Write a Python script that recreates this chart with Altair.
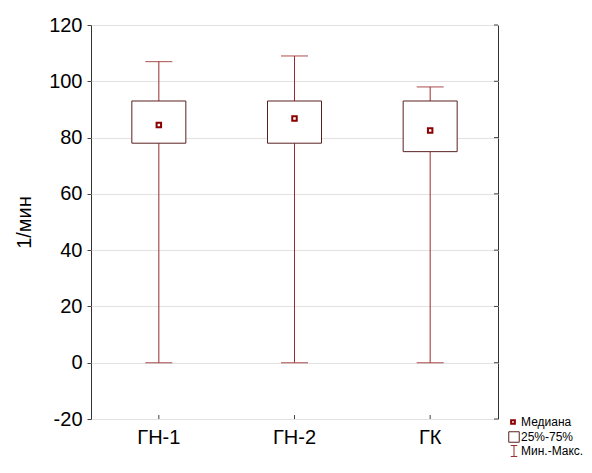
import altair as alt
import pandas as pd

groups = ["ГН-1", "ГН-2", "ГК"]
mins = [0, 0, 0]
q1s = [78, 78, 75]
medians = [84.5, 86.8, 82.5]
q3s = [93, 93, 93]
maxs = [107, 109, 98]

y_ticks = [-20, 0, 20, 40, 60, 80, 100, 120]
legend_labels = ["Медиана", "25%-75%", "Мин.-Макс."]

df = pd.DataFrame({"g": groups, "mn": mins, "q1": q1s, "med": medians, "q3": q3s, "mx": maxs})
ticks_df = pd.DataFrame({"t": y_ticks})

W, H = 407, 394
FONT = "Liberation Sans"
WHISK = "#9b2b2b"
BOXC = "#5a2020"
MEDC = "#8b0000"

x_enc = alt.X("g:N", sort=groups, scale=alt.Scale(domain=groups, paddingInner=0, paddingOuter=0),
              axis=alt.Axis(title=None, labelAngle=0, labelFontSize=20, labelFont=FONT, labelColor="black",
                            labelPadding=8, ticks=False, domain=False, grid=False))
yscale = alt.Scale(domain=[-20, 120], nice=False, zero=False)
y_axis = alt.Axis(title="1/мин", titleFontSize=20, titleFont=FONT, titleFontWeight="normal", titleColor="black",
                  titlePadding=14, labelFontSize=20, labelFont=FONT, labelColor="black", labelPadding=5,
                  values=y_ticks, tickSize=4, tickColor="#444", domain=False,
                  labelExpr="datum.value < 0 ? '-' + abs(datum.value) : '' + datum.value",
                  grid=True, gridColor="#e2e2e2", gridWidth=1)

base = alt.Chart(df)

whisk = base.mark_rule(color=WHISK, strokeWidth=1).encode(
    x=x_enc, y=alt.Y("mn:Q", scale=yscale, axis=y_axis), y2="mx:Q")
caps_top = base.mark_tick(color=WHISK, thickness=1.2, size=27).encode(x=x_enc, y=alt.Y("mx:Q", scale=yscale))
caps_bot = base.mark_tick(color=WHISK, thickness=1.2, size=27).encode(x=x_enc, y=alt.Y("mn:Q", scale=yscale))
box = base.mark_bar(fill="white", stroke=BOXC, strokeWidth=1, size=54).encode(
    x=x_enc, y=alt.Y("q1:Q", scale=yscale), y2="q3:Q")
med = base.mark_point(shape="square", filled=False, stroke=MEDC, strokeWidth=2, size=20, opacity=1).encode(
    x=x_enc, y=alt.Y("med:Q", scale=yscale))

tick_chart = alt.Chart(ticks_df)
right_ticks = tick_chart.mark_rule(color="#444").encode(
    y=alt.Y("t:Q", scale=yscale), x=alt.value(W - 4), x2=alt.value(W))
bottom_ticks = alt.Chart(pd.DataFrame({"g": groups})).mark_rule(color="#444").encode(
    x=x_enc, y=alt.value(H - 4), y2=alt.value(H))

leg_df = pd.DataFrame({"lab": legend_labels})
leg_x = W + 16
leg_y0 = H + 3
leg_med = alt.Chart(leg_df.iloc[[0]]).mark_point(shape="square", filled=False, stroke=MEDC, strokeWidth=2,
                                                 size=14, opacity=1).encode(x=alt.value(leg_x - 1), y=alt.value(leg_y0))
leg_box = alt.Chart(leg_df.iloc[[1]]).mark_point(shape="square", filled=False, stroke=BOXC, strokeWidth=1,
                                                 size=110, opacity=1).encode(x=alt.value(leg_x), y=alt.value(leg_y0 + 15))
leg_wh = alt.Chart(leg_df.iloc[[2]]).mark_point(shape="M-0.6,-1H0.6M0,-1V1M-0.6,1H0.6", filled=False,
                                                stroke=WHISK, strokeWidth=1, size=120, opacity=1).encode(
    x=alt.value(leg_x), y=alt.value(leg_y0 + 29))

leg_texts = []
for i in range(3):
    leg_texts.append(
        alt.Chart(leg_df.iloc[[i]]).mark_text(align="left", baseline="middle", fontSize=12, font=FONT,
                                              color="black").encode(
            x=alt.value(leg_x + 7), y=alt.value(leg_y0 + 14.5 * i), text="lab:N"))

chart = alt.layer(whisk, caps_top, caps_bot, box, med, right_ticks, bottom_ticks,
                  leg_med, leg_box, leg_wh, *leg_texts).properties(
    width=W, height=H,
    autosize=alt.AutoSizeParams(type="none"),
    padding={"left": 83, "top": 17, "right": 86, "bottom": 46},
).configure_view(stroke="#333", strokeWidth=1, clip=False)

chart.save("out.html", embed_options={"renderer": "svg", "actions": False})
